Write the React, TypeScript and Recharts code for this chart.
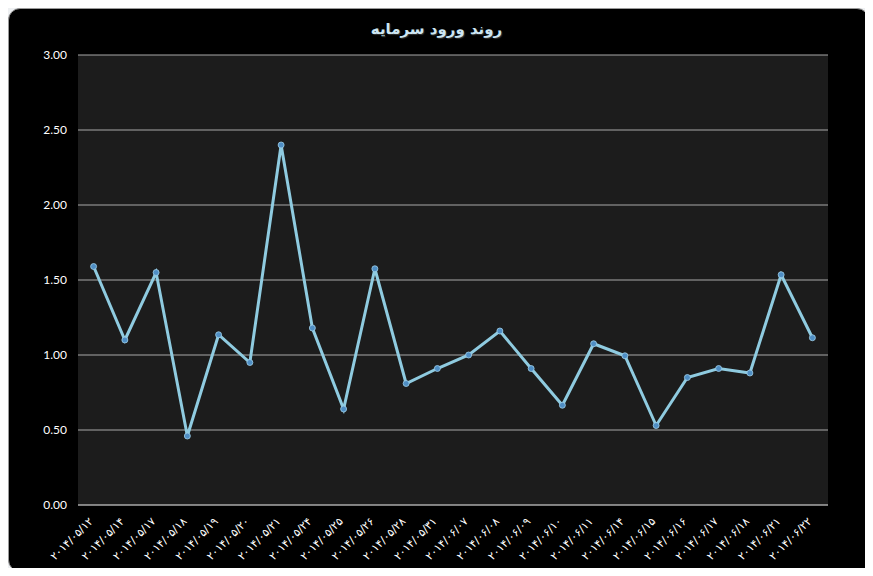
import React from 'react';
import { LineChart, Line, XAxis, YAxis, CartesianGrid } from 'recharts';

const dates = [
  '۲۰۱۴/۰۵/۱۲', '۲۰۱۴/۰۵/۱۴', '۲۰۱۴/۰۵/۱۷', '۲۰۱۴/۰۵/۱۸', '۲۰۱۴/۰۵/۱۹', '۲۰۱۴/۰۵/۲۰',
  '۲۰۱۴/۰۵/۲۱', '۲۰۱۴/۰۵/۲۴', '۲۰۱۴/۰۵/۲۵', '۲۰۱۴/۰۵/۲۶', '۲۰۱۴/۰۵/۲۸', '۲۰۱۴/۰۵/۳۱',
  '۲۰۱۴/۰۶/۰۷', '۲۰۱۴/۰۶/۰۸', '۲۰۱۴/۰۶/۰۹', '۲۰۱۴/۰۶/۱۰', '۲۰۱۴/۰۶/۱۱', '۲۰۱۴/۰۶/۱۴',
  '۲۰۱۴/۰۶/۱۵', '۲۰۱۴/۰۶/۱۶', '۲۰۱۴/۰۶/۱۷', '۲۰۱۴/۰۶/۱۸', '۲۰۱۴/۰۶/۲۱', '۲۰۱۴/۰۶/۲۲',
];

const inflow = [
  1.59, 1.10, 1.55, 0.46, 1.135, 0.95,
  2.40, 1.18, 0.64, 1.575, 0.81, 0.91,
  1.00, 1.16, 0.91, 0.665, 1.075, 0.995,
  0.53, 0.85, 0.91, 0.88, 1.535, 1.115,
];

const yTicks = [0, 0.5, 1, 1.5, 2, 2.5, 3];

const TITLE = 'روند ورود سرمایه';

const chartData = dates.map((d, i) => ({ date: d, value: inflow[i] }));

function DateTick({ x, y, payload }: any) {
  return (
    <text
      x={x}
      y={y}
      dy={9}
      transform={`rotate(-45 ${x} ${y + 9})`}
      textAnchor="end"
      fill="#ffffff"
      fontSize={11}
      fontFamily="DejaVu Sans, sans-serif"
    >
      {payload.value}
    </text>
  );
}

export default function App() {
  return (
    <div style={{ margin: -8, width: 873, height: 576, position: 'relative', background: '#eef0f2', overflow: 'hidden' }}>
      <div
        style={{
          position: 'absolute', left: 8, top: 8, width: 859, height: 562,
          background: '#000', borderRadius: 12, border: '1px solid #9a9a9a',
        }}
      />
      <div
        style={{
          position: 'absolute', left: 0, top: 20, width: 873, textAlign: 'center',
          color: '#cde6f3', fontFamily: 'DejaVu Sans, sans-serif', fontWeight: 'bold', fontSize: 15,
          textShadow: '1px 1px 1px #333',
        }}
        dir="rtl"
      >
        {TITLE}
      </div>
      <div style={{ position: 'absolute', left: 0, top: 0 }}>
        <LineChart width={873} height={576} data={chartData} margin={{ top: 55, right: 45, bottom: 11, left: 8 }}>
          <CartesianGrid vertical={false} stroke="#a8a8a8" fill="#1c1c1c" />
          <XAxis
            dataKey="date"
            height={60}
            interval={0}
            padding={{ left: 15.6, right: 15.6 }}
            axisLine={{ stroke: '#a8a8a8' }}
            tickLine={false}
            tick={<DateTick />}
          />
          <YAxis
            width={70}
            domain={[0, 3]}
            ticks={yTicks}
            axisLine={false}
            tickLine={false}
            tickSize={0}
            tickMargin={11}
            tick={{ fill: '#ffffff', fontSize: 12, fontFamily: 'Lato, sans-serif' }}
            tickFormatter={(v: number) => v.toFixed(2)}
          />
          <Line
            type="linear"
            dataKey="value"
            stroke="#8fcbe0"
            strokeWidth={3}
            dot={{ r: 3, fill: '#4f8ec4', stroke: '#9fd0ea', strokeWidth: 0.8 }}
            isAnimationActive={false}
          />
        </LineChart>
      </div>
    </div>
  );
}
